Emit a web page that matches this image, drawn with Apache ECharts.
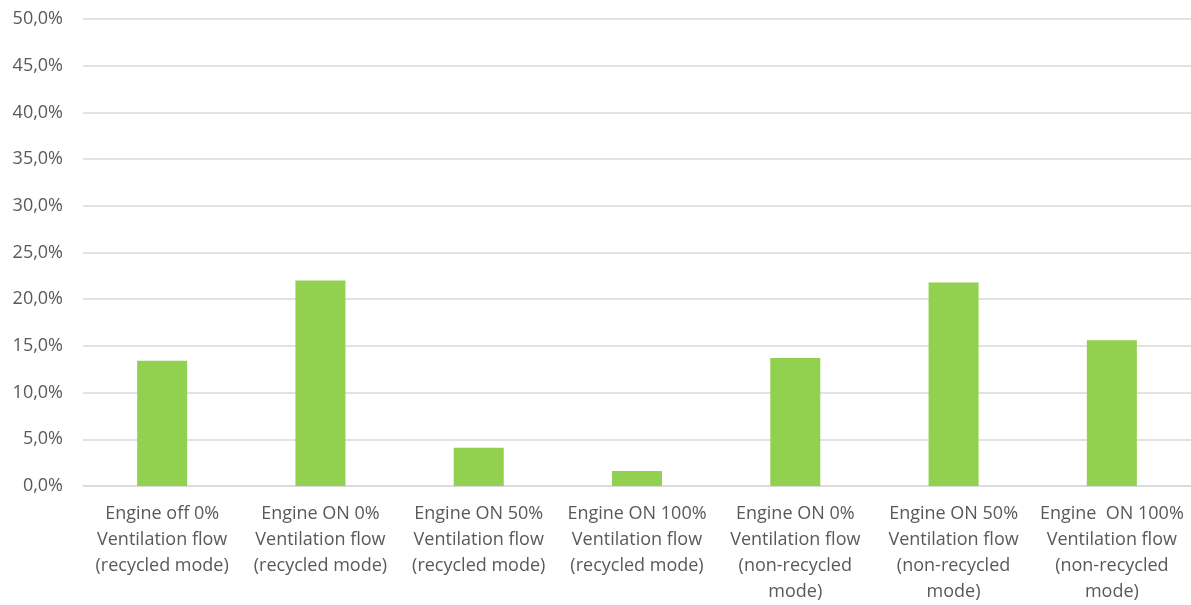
<!DOCTYPE html>
<html>
<head>
<meta charset="utf-8">
<script src="https://cdn.jsdelivr.net/npm/echarts@6/dist/echarts.min.js"></script>
<style>html,body{margin:0;padding:0;background:#fff}#c{width:1191px;height:605px}</style>
</head>
<body>
<div id="c"></div>
<script>
const categories = [
  "Engine off 0%\nVentilation flow\n(recycled mode)",
  "Engine ON 0%\nVentilation flow\n(recycled mode)",
  "Engine ON 50%\nVentilation flow\n(recycled mode)",
  "Engine ON 100%\nVentilation flow\n(recycled mode)",
  "Engine ON 0%\nVentilation flow\n(non-recycled\nmode)",
  "Engine ON 50%\nVentilation flow\n(non-recycled\nmode)",
  "Engine  ON 100%\nVentilation flow\n(non-recycled\nmode)"
];
const values = [13.4, 22.0, 4.1, 1.6, 13.7, 21.8, 15.6];
const yMin = 0, yMax = 50, yStep = 5;

const chart = echarts.init(document.getElementById('c'), null, {renderer: 'canvas'});
chart.setOption({
  animation: false,
  grid: {left: 83, right: -5, top: 19, bottom: 114, containLabel: false},
  xAxis: {
    type: 'category',
    data: categories,
    axisLine: {show: true, lineStyle: {color: '#d9d9d9', width: 1.5}},
    axisTick: {show: false},
    axisLabel: {
      interval: 0, margin: 15, color: '#595959',
      fontFamily: 'Open Sans', fontSize: 18, lineHeight: 26, align: 'center'
    }
  },
  yAxis: {
    type: 'value', min: yMin, max: yMax, interval: yStep,
    axisLine: {show: false}, axisTick: {show: false},
    splitLine: {lineStyle: {color: '#d9d9d9', width: 1.5}},
    axisLabel: {
      margin: 20, color: '#595959', fontFamily: 'Open Sans', fontSize: 18,
      formatter: v => v.toFixed(1).replace('.', ',') + '%'
    }
  },
  series: [{
    type: 'bar', data: values, barWidth: 50,
    itemStyle: {color: '#92d050'}
  }]
});
</script>
</body>
</html>
